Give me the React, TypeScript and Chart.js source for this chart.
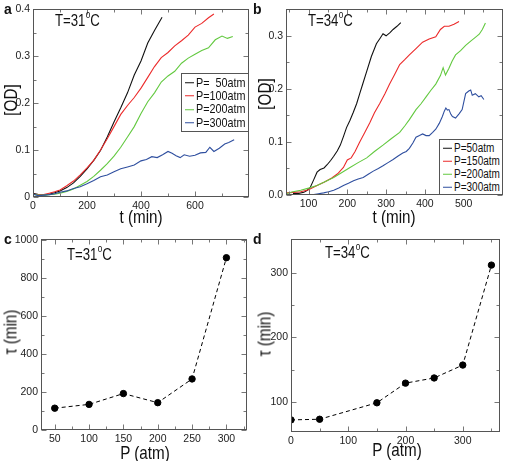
import React, { useEffect, useRef } from 'react';
import { Chart, registerables } from 'chart.js';
Chart.register(...registerables);

const SANS = '"Liberation Sans", Arial, Helvetica, sans-serif';
const SQUEEZE = 0.8;

// ---------- Panel a (T=31°C) : OD vs t ----------
const a50T = [0, 20, 40, 60, 80, 100, 125, 150, 175, 200, 225, 250, 275, 300, 325, 350, 375, 400, 425, 450, 478];
const a50V = [0.008, 0.005, 0.004, 0.006, 0.009, 0.013, 0.020, 0.030, 0.044, 0.060, 0.078, 0.099, 0.128, 0.160, 0.190, 0.222, 0.260, 0.290, 0.328, 0.355, 0.383];
const a100T = [0, 20, 40, 60, 80, 100, 125, 150, 175, 200, 225, 250, 275, 300, 325, 350, 375, 400, 425, 450, 475, 500, 525, 550, 575, 600, 625, 650, 670];
const a100V = [0.006, 0.005, 0.005, 0.008, 0.011, 0.015, 0.024, 0.034, 0.047, 0.062, 0.078, 0.100, 0.124, 0.150, 0.176, 0.195, 0.212, 0.232, 0.255, 0.278, 0.297, 0.308, 0.322, 0.333, 0.345, 0.362, 0.370, 0.382, 0.390];
const a200T = [0, 20, 40, 60, 80, 100, 125, 150, 175, 200, 225, 250, 275, 300, 325, 350, 375, 400, 425, 450, 475, 500, 525, 550, 575, 600, 625, 650, 675, 700, 720, 740];
const a200V = [0.006, 0.004, 0.004, 0.005, 0.006, 0.008, 0.012, 0.017, 0.025, 0.033, 0.044, 0.057, 0.071, 0.087, 0.106, 0.128, 0.150, 0.178, 0.203, 0.222, 0.245, 0.258, 0.268, 0.285, 0.296, 0.304, 0.312, 0.318, 0.335, 0.343, 0.338, 0.342];
const a300T = [0, 20, 40, 60, 80, 100, 125, 150, 175, 200, 225, 250, 275, 300, 325, 350, 375, 400, 420, 440, 460, 480, 500, 515, 530, 545, 560, 580, 600, 620, 640, 655, 670, 690, 710, 725, 745];
const a300V = [0.006, 0.003, 0.004, 0.005, 0.007, 0.010, 0.013, 0.018, 0.022, 0.028, 0.035, 0.043, 0.047, 0.054, 0.060, 0.064, 0.068, 0.077, 0.080, 0.086, 0.084, 0.090, 0.097, 0.093, 0.088, 0.084, 0.090, 0.087, 0.089, 0.094, 0.095, 0.106, 0.097, 0.104, 0.113, 0.116, 0.122];

// ---------- Panel b (T=34°C) : OD vs t ----------
const b50T = [60, 75, 88, 97, 105, 113, 122, 130, 140, 148, 157, 165, 174, 182, 190, 198, 207, 215, 224, 232, 241, 250, 262, 275, 285, 292, 300, 310, 318, 328, 338];
const b50V = [0.003, 0.003, 0.005, 0.009, 0.015, 0.028, 0.043, 0.048, 0.051, 0.057, 0.065, 0.073, 0.083, 0.094, 0.110, 0.127, 0.141, 0.155, 0.172, 0.191, 0.212, 0.233, 0.261, 0.285, 0.296, 0.304, 0.300, 0.306, 0.312, 0.318, 0.325];
const b150T = [44, 60, 80, 100, 122, 140, 160, 175, 190, 200, 210, 220, 232, 245, 258, 270, 284, 297, 309, 322, 335, 348, 360, 377, 394, 411, 428, 440, 450, 462, 475, 488];
const b150V = [0.004, 0.005, 0.006, 0.010, 0.018, 0.024, 0.032, 0.040, 0.052, 0.066, 0.070, 0.082, 0.100, 0.118, 0.136, 0.155, 0.173, 0.191, 0.209, 0.227, 0.246, 0.255, 0.264, 0.276, 0.288, 0.294, 0.298, 0.312, 0.318, 0.318, 0.322, 0.327];
const b200T = [44, 60, 80, 100, 122, 145, 165, 185, 207, 228, 250, 270, 292, 313, 335, 348, 360, 377, 390, 403, 415, 428, 440, 447, 453, 462, 470, 479, 492, 505, 518, 530, 540, 548, 556];
const b200V = [0.003, 0.006, 0.009, 0.013, 0.018, 0.026, 0.033, 0.042, 0.052, 0.061, 0.070, 0.082, 0.094, 0.106, 0.118, 0.130, 0.142, 0.161, 0.172, 0.185, 0.197, 0.209, 0.225, 0.240, 0.226, 0.239, 0.252, 0.264, 0.272, 0.282, 0.290, 0.297, 0.303, 0.312, 0.324];
const b300T = [62, 80, 105, 122, 139, 152, 165, 178, 190, 203, 216, 228, 241, 254, 267, 280, 292, 305, 318, 330, 343, 352, 360, 369, 377, 386, 394, 403, 411, 420, 428, 437, 445, 450, 454, 458, 462, 467, 471, 479, 488, 496, 505, 513, 518, 522, 530, 539, 545, 552];
const b300V = [0.0, 0.0, 0.0, 0.002, 0.004, 0.006, 0.009, 0.013, 0.018, 0.022, 0.027, 0.030, 0.033, 0.039, 0.045, 0.050, 0.055, 0.061, 0.067, 0.073, 0.079, 0.082, 0.088, 0.098, 0.109, 0.112, 0.115, 0.112, 0.112, 0.118, 0.124, 0.135, 0.148, 0.158, 0.164, 0.160, 0.161, 0.152, 0.148, 0.145, 0.153, 0.161, 0.191, 0.196, 0.198, 0.188, 0.191, 0.185, 0.187, 0.180];

// ---------- Panel c (T=31°C) : tau vs P ----------
const cP = [50, 100, 150, 200, 250, 300];
const cTau = [115, 135, 192, 144, 269, 908];

// ---------- Panel d (T=34°C) : tau vs P ----------
const dP = [0, 50, 150, 200, 250, 300, 350];
const dTau = [72, 73, 98.5, 129, 137, 157, 312];

// ---------- ticks ----------
const aXMajor = [0, 200, 400, 600];
const aXLabels = ['0', '200', '400', '600'];
const aXMinor = [100, 300, 500, 700];
const aYMajor = [0, 0.1, 0.2, 0.3, 0.4];
const aYLabels = ['0', '0.1', '0.2', '0.3', '0.4'];
const aYMinor = [0.05, 0.15, 0.25, 0.35];

const bXMajor = [100, 200, 300, 400, 500];
const bXLabels = ['100', '200', '300', '400', '500'];
const bXMinor = [50, 150, 250, 350, 450, 550];
const bYMajor = [0, 0.1, 0.2, 0.3];
const bYLabels = ['0.0', '0.1', '0.2', '0.3'];
const bYMinor = [0.05, 0.15, 0.25];

const cXMajor = [50, 100, 150, 200, 250, 300];
const cXLabels = ['50', '100', '150', '200', '250', '300'];
const cXMinor = [75, 125, 175, 225, 275, 325];
const cYMajor = [0, 200, 400, 600, 800, 1000];
const cYLabels = ['0', '200', '400', '600', '800', '1000'];
const cYMinor = [100, 300, 500, 700, 900];

const dXMajor = [0, 100, 200, 300];
const dXLabels = ['0', '100', '200', '300'];
const dXMinor = [50, 150, 250, 350];
const dYMajor = [100, 200, 300];
const dYLabels = ['100', '200', '300'];
const dYMinor = [150, 250];

const BLACK = '#111111';
const RED = '#ec2b2b';
const GREEN = '#63c940';
const BLUE = '#2f4f9f';

const frameTicks = {
  id: 'frameTicks',
  afterDraw(chart: any, _args: any, opts: any) {
    const { ctx, chartArea: a, scales } = chart;
    const xs = scales.x, ys = scales.y;
    ctx.save();
    ctx.strokeStyle = '#777';
    ctx.lineWidth = 1;
    const L = Math.round(a.left) + 0.5, R = Math.round(a.right) - 0.5;
    const T = Math.round(a.top) + 0.5, B = Math.round(a.bottom) - 0.5;
    ctx.beginPath();
    const tick = (vals: number[], len: number) => {
      vals.forEach((v) => {
        const px = Math.round(xs.getPixelForValue(v)) + 0.5;
        if (px < L - 1 || px > R + 1) return;
        ctx.moveTo(px, B); ctx.lineTo(px, B - len);
        ctx.moveTo(px, T); ctx.lineTo(px, T + len);
      });
    };
    const ytick = (vals: number[], len: number) => {
      vals.forEach((v) => {
        const py = Math.round(ys.getPixelForValue(v)) + 0.5;
        if (py < T - 1 || py > B + 1) return;
        ctx.moveTo(L, py); ctx.lineTo(L + len, py);
        ctx.moveTo(R, py); ctx.lineTo(R - len, py);
      });
    };
    tick(opts.xMajor, 5); tick(opts.xMinor, 3);
    ytick(opts.yMajor, 5); ytick(opts.yMinor, 3);
    ctx.stroke();
    ctx.strokeStyle = '#555';
    ctx.strokeRect(L, T, R - L, B - T);
    ctx.restore();
  },
};

type Spec = {
  w: number; h: number;
  area: { l: number; t: number; r: number; b: number };
  xMin: number; xMax: number; yMin: number; yMax: number;
  xMajor: number[]; xLabels: string[]; xMinor: number[];
  yMajor: number[]; yLabels: string[]; yMinor: number[];
  datasets: any[];
};

function ChartPanel({ spec, left, top }: { spec: Spec; left: number; top: number }) {
  const ref = useRef<HTMLCanvasElement>(null);
  useEffect(() => {
    const s = spec;
    const tickFont = { family: SANS, size: 10.5 };
    const chart = new Chart(ref.current as HTMLCanvasElement, {
      type: 'line',
      data: { datasets: s.datasets },
      plugins: [frameTicks as any],
      options: {
        animation: false,
        responsive: false,
        devicePixelRatio: 1,
        layout: { padding: { left: 0, top: s.area.t, right: s.w - s.area.r, bottom: 0 } },
        plugins: {
          legend: { display: false },
          tooltip: { enabled: false },
          frameTicks: { xMajor: s.xMajor, xMinor: s.xMinor, yMajor: s.yMajor, yMinor: s.yMinor },
        } as any,
        scales: {
          x: {
            type: 'linear', min: s.xMin, max: s.xMax,
            grid: { display: false, drawTicks: false },
            border: { display: false },
            ticks: {
              font: tickFont, color: '#222', padding: 3, maxRotation: 0, autoSkip: false,
              callback: (_v: any, i: number) => s.xLabels[i],
            },
            afterBuildTicks: (sc: any) => { sc.ticks = s.xMajor.map((v) => ({ value: v })); },
            afterFit: (sc: any) => { sc.height = s.h - s.area.b; },
          },
          y: {
            type: 'linear', min: s.yMin, max: s.yMax,
            grid: { display: false, drawTicks: false },
            border: { display: false },
            ticks: {
              font: tickFont, color: '#222', padding: 3, autoSkip: false,
              callback: (_v: any, i: number) => s.yLabels[i],
            },
            afterBuildTicks: (sc: any) => { sc.ticks = s.yMajor.map((v) => ({ value: v })); },
            afterFit: (sc: any) => { sc.width = s.area.l; },
          },
        },
      } as any,
    });
    return () => chart.destroy();
  }, [spec]);
  return (
    <canvas ref={ref} width={spec.w} height={spec.h}
      style={{ position: 'absolute', left, top, width: spec.w, height: spec.h }} />
  );
}

const curve = (xs: number[], ys: number[], color: string) => ({
  data: xs.map((x, i) => ({ x, y: ys[i] })),
  borderColor: color, borderWidth: 1.1, pointRadius: 0, tension: 0, fill: false,
});
const dashed = (xs: number[], ys: number[]) => ({
  data: xs.map((x, i) => ({ x, y: ys[i] })),
  borderColor: '#000', borderWidth: 1, borderDash: [4, 3], pointRadius: 3.2,
  pointBackgroundColor: '#000', pointBorderColor: '#000', tension: 0, fill: false,
});

const specA: Spec = {
  w: 252, h: 230, area: { l: 33, t: 7, r: 249, b: 197 },
  xMin: 0, xMax: 800, yMin: 0, yMax: 0.4,
  xMajor: aXMajor, xLabels: aXLabels, xMinor: aXMinor,
  yMajor: aYMajor, yLabels: aYLabels, yMinor: aYMinor,
  datasets: [curve(a300T, a300V, BLUE), curve(a200T, a200V, GREEN), curve(a100T, a100V, RED), curve(a50T, a50V, BLACK)],
};
const specB: Spec = {
  w: 255, h: 230, area: { l: 36, t: 3, r: 252.5, b: 195 },
  xMin: 42, xMax: 600, yMin: 0, yMax: 0.35,
  xMajor: bXMajor, xLabels: bXLabels, xMinor: bXMinor,
  yMajor: bYMajor, yLabels: bYLabels, yMinor: bYMinor,
  datasets: [curve(b300T, b300V, BLUE), curve(b200T, b200V, GREEN), curve(b150T, b150V, RED), curve(b50T, b50V, BLACK)],
};
const specC: Spec = {
  w: 252, h: 231, area: { l: 41, t: 5, r: 248.5, b: 200 },
  xMin: 30, xMax: 330, yMin: 0, yMax: 1005,
  xMajor: cXMajor, xLabels: cXLabels, xMinor: cXMinor,
  yMajor: cYMajor, yLabels: cYLabels, yMinor: cYMinor,
  datasets: [dashed(cP, cTau)],
};
const specD: Spec = {
  w: 255, h: 231, area: { l: 41, t: 5, r: 253.5, b: 201.5 },
  xMin: 0, xMax: 365, yMin: 54, yMax: 352,
  xMajor: dXMajor, xLabels: dXLabels, xMinor: dXMinor,
  yMajor: dYMajor, yLabels: dYLabels, yMinor: dYMinor,
  datasets: [dashed(dP, dTau)],
};

const baseText: any = { position: 'absolute', fontFamily: SANS, lineHeight: 1, whiteSpace: 'pre', color: '#111' };
const txt = (left: number, top: number, size: number, content: React.ReactNode) => (
  <div style={{ ...baseText, left, top, fontSize: size, transform: `scaleX(${SQUEEZE})`, transformOrigin: '0 0' }}>{content}</div>
);
const centered = (cx: number, cy: number, size: number, content: React.ReactNode, rotate = false) => (
  <div style={{
    ...baseText, left: cx, top: cy, fontSize: size,
    transform: `translate(-50%, -50%)${rotate ? ' rotate(-90deg)' : ''} scaleX(${SQUEEZE})`,
  }}>{content}</div>
);
const temp = (n: string) => (<span>T={n}<sup style={{ fontSize: '0.62em', lineHeight: 0, position: 'relative', top: '-0.1em', marginLeft: '0.04em' }}>o</sup>C</span>);
const letter = (left: number, top: number, l: string) => (
  <div style={{ ...baseText, left, top, fontWeight: 'bold', fontSize: 14 }}>{l}</div>
);

function Legend({ left, top, width, height, items, step, first, size }: any) {
  return (
    <div style={{ position: 'absolute', left, top, width, height, border: '1px solid #555', background: '#fff', boxSizing: 'border-box' }}>
      {items.map((it: any, i: number) => (
        <div key={i} style={{ position: 'absolute', left: 3, top: first + i * step, transform: 'translateY(-50%)', display: 'flex', alignItems: 'center', whiteSpace: 'pre' }}>
          <span style={{ display: 'inline-block', width: 9, borderTop: `1.5px solid ${it.color}`, marginRight: 2 }} />
          <span style={{ display: 'inline-block', fontFamily: SANS, fontSize: size, lineHeight: 1, color: '#111', transform: `scaleX(${SQUEEZE})`, transformOrigin: '0 50%' }}>{it.label}</span>
        </div>
      ))}
    </div>
  );
}

const legendALabels = ['P=  50atm', 'P=100atm', 'P=200atm', 'P=300atm'];
const legendBLabels = ['P=50atm', 'P=150atm', 'P=200atm', 'P=300atm'];
const seriesColors = [BLACK, RED, GREEN, BLUE];

export default function App() {
  return (
    <div style={{ position: 'fixed', left: 0, top: 0, width: 505, height: 461, background: '#fff', overflow: 'hidden' }}>
      <ChartPanel spec={specA} left={0} top={0} />
      <ChartPanel spec={specB} left={250} top={0} />
      <ChartPanel spec={specC} left={0} top={230} />
      <ChartPanel spec={specD} left={250} top={230} />

      {letter(4, 2, 'a')}
      {letter(253, 2, 'b')}
      {letter(4, 232, 'c')}
      {letter(253, 232, 'd')}

      {txt(55, 12, 16.5, temp('31'))}
      {txt(308, 12, 16.5, temp('34'))}
      {txt(67, 246, 16.5, temp('31'))}
      {txt(325, 244, 16.5, temp('34'))}

      {centered(10, 100, 19, '[OD]', true)}
      {centered(141, 216, 19, 't (min)')}
      {centered(264, 94, 19, '[OD]', true)}
      {centered(394, 216, 19, 't (min)')}
      {centered(10, 332, 19, 'τ (min)', true)}
      {centered(145, 452, 19, 'P (atm)')}
      {centered(264, 334, 19, 'τ (min)', true)}
      {centered(397, 449, 19, 'P (atm)')}

      <Legend left={181} top={73} width={68} height={59} first={9} step={13.2} size={13.5}
        items={legendALabels.map((l, i) => ({ label: l, color: seriesColors[i] }))} />
      <Legend left={439} top={139} width={64} height={56} first={8} step={13} size={12.5}
        items={legendBLabels.map((l, i) => ({ label: l, color: seriesColors[i] }))} />
    </div>
  );
}
